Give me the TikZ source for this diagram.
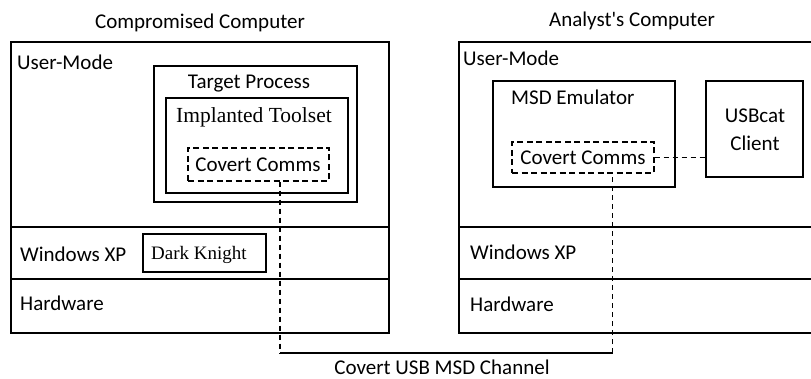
\documentclass[tikz,border=0pt]{standalone}
\usepackage{fontspec}
\setmainfont{Carlito}
\newfontfamily\serifface{Liberation Serif}
\usetikzlibrary{positioning}
\tikzset{
  layer/.style={draw, line width=1.4pt, inner sep=0pt},
  dashbox/.style={draw, line width=1.4pt, inner sep=0pt, dash pattern=on 6pt off 3.5pt},
  chan/.style={line width=1.3pt, dash pattern=on 5pt off 4pt},
  lbl/.style={inner sep=0pt, font=\fontsize{21}{24}\selectfont},
  tlbl/.style={inner sep=0pt, font=\fontsize{21.5}{24}\selectfont\serifface},
}
\begin{document}
\begin{tikzpicture}[x=1pt, y=-1pt]
      \useasboundingbox (0,0) rectangle (811,379);
      % compromised computer
      \node[layer, minimum width=378pt, minimum height=185pt] (userA) at (200,134.5) {};
      \node[layer, minimum width=378pt, minimum height=52pt] (osA) at (200,253) {};
      \node[layer, minimum width=378pt, minimum height=54pt] (hwA) at (200,306) {};
      \node[layer, minimum width=203pt, minimum height=136pt] (target) at (255.5,134) {};
      \node[layer, minimum width=182pt, minimum height=95pt] (toolset) at (257,145.5) {};
      \node[dashbox, minimum width=141pt, minimum height=33pt] (commsA) at (258.5,164.5) {};
      \node[layer, line width=1.2pt, minimum width=123pt, minimum height=38pt] (knight) at (204.5,253) {};
      \draw
        (200,29) node[lbl, anchor=base] (titleA) {Compromised Computer}
        (17,70) node[lbl, anchor=base west] (umA) {User-Mode}
        (249,89) node[lbl, anchor=base] (targetlbl) {Target Process}
        (254,123) node[tlbl, anchor=base] (toolsetlbl) {Implanted Toolset}
        (258,172) node[lbl, anchor=base] (commsAlbl) {Covert Comms}
        (20,262) node[lbl, anchor=base west] (osAlbl) {Windows XP}
        (199,260) node[tlbl, font=\fontsize{19}{22}\selectfont\serifface, anchor=base] (knightlbl) {Dark Knight}
        (20,311) node[lbl, anchor=base west] (hwAlbl) {Hardware};
      % analyst's computer
      \node[layer, minimum width=376pt, minimum height=185pt] (userB) at (647,134.5) {};
      \node[layer, minimum width=376pt, minimum height=52pt] (osB) at (647,253) {};
      \node[layer, minimum width=376pt, minimum height=54pt] (hwB) at (647,306) {};
      \node[layer, minimum width=182pt, minimum height=106pt] (emu) at (584,134) {};
      \node[dashbox, minimum width=142pt, minimum height=31pt] (commsB) at (583,157.5) {};
      \node[layer, minimum width=97pt, minimum height=96pt] (usbcat) at (754.5,129) {};
      \draw
        (632,27) node[lbl, anchor=base] (titleB) {Analyst\textquotesingle s Computer}
        (463,66) node[lbl, anchor=base west] (umB) {User-Mode}
        (511,105) node[lbl, anchor=base west] (emulbl) {MSD Emulator}
        (583,165) node[lbl, anchor=base] (commsBlbl) {Covert Comms}
        (755,123) node[lbl, anchor=base] (usbcatlbl) {USBcat}
        (755,151) node[lbl, anchor=base] (clientlbl) {Client}
        (470,260) node[lbl, anchor=base west] (osBlbl) {Windows XP}
        (470,312) node[lbl, anchor=base west] (hwBlbl) {Hardware};
      % covert channel
      \coordinate (chanA) at (280,353);
      \coordinate (chanB) at (612.5,353);
      \begin{scope}[-]
        \draw[chan] (commsA.south -| chanA) -- (chanA);
        \draw[line width=1.2pt] (chanA) -- (chanB);
        \draw[chan] (chanB) -- (commsB.south -| chanB);
        \draw[chan] (commsB.east) -- (usbcat.west |- commsB.east);
      \end{scope}
      \node[lbl, anchor=base] (chanlbl) at (442,374) {Covert USB MSD Channel};
    \end{tikzpicture}
\end{document}
